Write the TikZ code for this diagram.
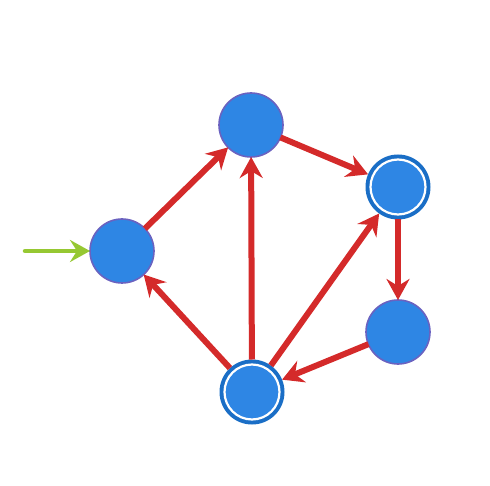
\documentclass[tikz,border=0pt]{standalone}
\usetikzlibrary{arrows.meta}
\definecolor{nodeblue}{HTML}{2E86E4}
\definecolor{nodeborder}{HTML}{6A62C0}
\definecolor{ringblue}{HTML}{1A6EC6}
\definecolor{edgered}{HTML}{D42A2A}
\definecolor{startgreen}{HTML}{96C832}
\tikzset{
  state/.style={circle, fill=nodeblue, draw=nodeborder, line width=1.6pt, minimum size=64pt, inner sep=0pt, outer sep=0pt},
  accstate/.style={circle, fill=ringblue, draw=none, minimum size=65pt, inner sep=0pt, outer sep=0pt},
  edge/.style={draw=edgered, line width=6pt, -{Stealth[length=21pt, width=23pt, inset=7pt]}},
  startedge/.style={draw=startgreen, line width=4.5pt, line cap=round, -{Stealth[length=20pt, width=22pt, inset=7pt]}}
}
\begin{document}
\begin{tikzpicture}[x=1pt, y=-1pt]
\useasboundingbox (0,0) rectangle (490,486);
\node[state] (A) at (122,251) {};
\node[state] (B) at (251,125) {};
\node[accstate] (C) at (398,187) {};
\node[state] (D) at (398,332) {};
\node[accstate] (E) at (252,392) {};
\foreach \n in {C,E}{
  \filldraw[fill=nodeblue, draw=white, line width=2.2pt] (\n) circle (27.5pt);
}
\coordinate (S) at (25,251);
\draw[startedge] (S) -- (A);
\draw[edge] (A) -- (B);
\draw[edge] (B) -- (C);
\draw[edge] (C) -- (D);
\draw[edge] (D) -- (E);
\draw[edge] (E) -- (A);
\draw[edge] (E) -- (B);
\draw[edge] (E) -- (C);
\end{tikzpicture}
\end{document}
